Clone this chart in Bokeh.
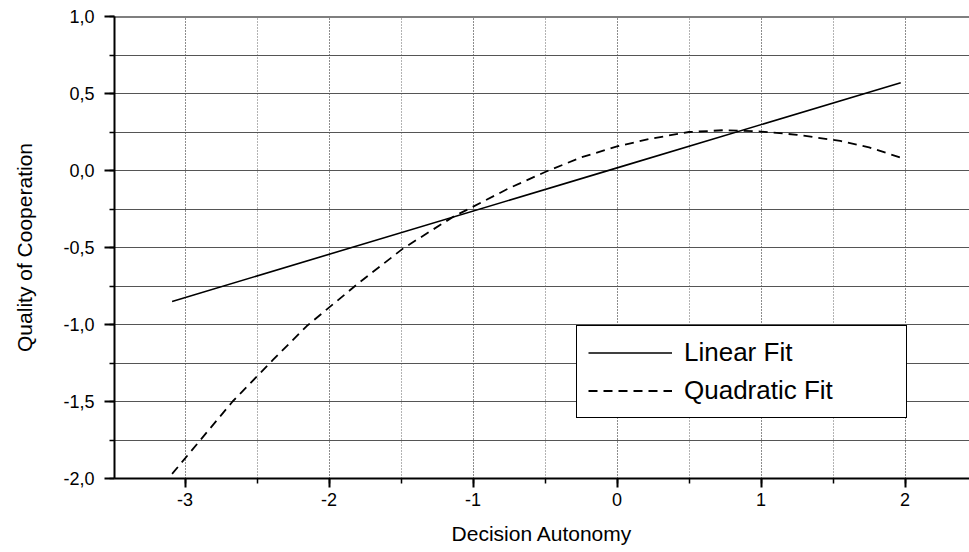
from bokeh.plotting import figure
from bokeh.models import (Range1d, FixedTicker, CustomJSTickFormatter, Span,
                          Legend, LegendItem)
from bokeh.embed import file_html
from bokeh.resources import INLINE

# ---- data ----
linear_x = [-3.09, 0.0, 1.97]
linear_y = [-0.85, 0.017, 0.57]

quad_x = [-3.09, -2.67, -2.39, -2.155, -1.80, -1.484, -1.137, -1.01, -0.75,
          -0.488, -0.25, 0.0, 0.23, 0.5, 0.75, 1.0, 1.25, 1.55, 1.75, 1.97]
quad_y = [-1.97, -1.50, -1.23, -1.01, -0.735, -0.505, -0.30, -0.24, -0.115,
          -0.005, 0.085, 0.156, 0.206, 0.25, 0.262, 0.253, 0.232, 0.192, 0.15, 0.084]

x_ticks = [-3, -2, -1, 0, 1, 2]
x_minor_ticks = [-3.5, -3, -2.5, -2, -1.5, -1, -0.5, 0, 0.5, 1, 1.5, 2]
x_tick_labels = ["-3", "-2", "-1", "0", "1", "2"]
y_ticks = [-2.0, -1.5, -1.0, -0.5, 0.0, 0.5, 1.0]
y_minor_ticks = [-2.0, -1.75, -1.5, -1.25, -1.0, -0.75, -0.5, -0.25, 0.0,
                 0.25, 0.5, 0.75, 1.0]
y_tick_labels = ["-2,0", "-1,5", "-1,0", "-0,5", "0,0", "0,5", "1,0"]

series_names = ["Linear Fit", "Quadratic Fit"]

FONT = "Liberation Sans"

LOOKUP = """
let best = 0, d = 1e9;
for (let i = 0; i < tvals.length; i++) {
    const e = Math.abs(tvals[i] - tick);
    if (e < d) { d = e; best = i; }
}
return tlabels[best];
"""

p = figure(width=969, height=548, output_backend="svg", toolbar_location=None,
           x_range=Range1d(-3.49, 2.4475), y_range=Range1d(-2.0, 1.0),
           min_border_left=114, min_border_right=0, min_border_top=16,
           min_border_bottom=70)
p.outline_line_color = None
p.background_fill_color = "white"
p.border_fill_color = "white"

# grids
p.xaxis.ticker = FixedTicker(ticks=x_ticks, minor_ticks=x_minor_ticks)
p.yaxis.ticker = FixedTicker(ticks=y_ticks, minor_ticks=y_minor_ticks)

p.xgrid.grid_line_color = "#666666"
p.xgrid.grid_line_dash = "1 2"
p.xgrid.grid_line_width = 1
p.xgrid.minor_grid_line_color = "#666666"
p.xgrid.minor_grid_line_dash = "1 2"
p.xgrid.minor_grid_line_width = 1

p.ygrid.grid_line_color = "#555555"
p.ygrid.grid_line_width = 1
p.ygrid.minor_grid_line_color = "#555555"
p.ygrid.minor_grid_line_width = 1

# axes
for ax in (p.xaxis[0], p.yaxis[0]):
    ax.axis_line_width = 2
    ax.axis_line_color = "black"
    ax.major_tick_in = 0
    ax.minor_tick_in = 0
    ax.major_tick_line_width = 2
    ax.minor_tick_line_width = 1.5
    ax.major_label_text_font = FONT
    ax.major_label_text_color = "black"
    ax.axis_label_text_font = FONT
    ax.axis_label_text_font_style = "normal"
    ax.axis_label_text_color = "black"

p.xaxis.major_tick_out = 9
p.xaxis.minor_tick_out = 5
p.xaxis.major_label_text_font_size = "18px"
p.xaxis.major_label_standoff = 5
p.xaxis.axis_label = "Decision Autonomy"
p.xaxis.axis_label_text_font_size = "21px"
p.xaxis.axis_label_standoff = 13
p.xaxis.formatter = CustomJSTickFormatter(
    args=dict(tvals=x_ticks, tlabels=x_tick_labels), code=LOOKUP)

p.yaxis.major_tick_out = 10
p.yaxis.minor_tick_out = 5
p.yaxis.major_label_text_font_size = "18px"
p.yaxis.major_label_standoff = 10
p.yaxis.axis_label = "Quality of Cooperation"
p.yaxis.axis_label_text_font_size = "21px"
p.yaxis.axis_label_standoff = 24
p.yaxis.formatter = CustomJSTickFormatter(
    args=dict(tvals=y_ticks, tlabels=y_tick_labels), code=LOOKUP)

# top border
p.add_layout(Span(location=1.0, dimension="width", line_color="black",
                  line_width=2))

# data lines
r_lin = p.line(linear_x, linear_y, line_color="black", line_width=1.6)
r_quad = p.line(quad_x, quad_y, line_color="black", line_width=1.8,
                line_dash="9 6")

legend = Legend(items=[LegendItem(label=series_names[0], renderers=[r_lin]),
                       LegendItem(label=series_names[1], renderers=[r_quad])],
                location=(462, 60))
legend.border_line_color = "black"
legend.border_line_alpha = 1
legend.border_line_width = 1.5
legend.background_fill_color = "white"
legend.background_fill_alpha = 1
legend.padding = 11
legend.spacing = 7
legend.glyph_height = 27
legend.label_height = 27
legend.glyph_width = 84
legend.label_standoff = 12
legend.label_width = 211
legend.label_text_font = FONT
legend.label_text_font_size = "26px"
legend.label_text_color = "black"
legend.margin = 0
p.add_layout(legend, "center")

open("out.html", "w").write(file_html(p, INLINE))
